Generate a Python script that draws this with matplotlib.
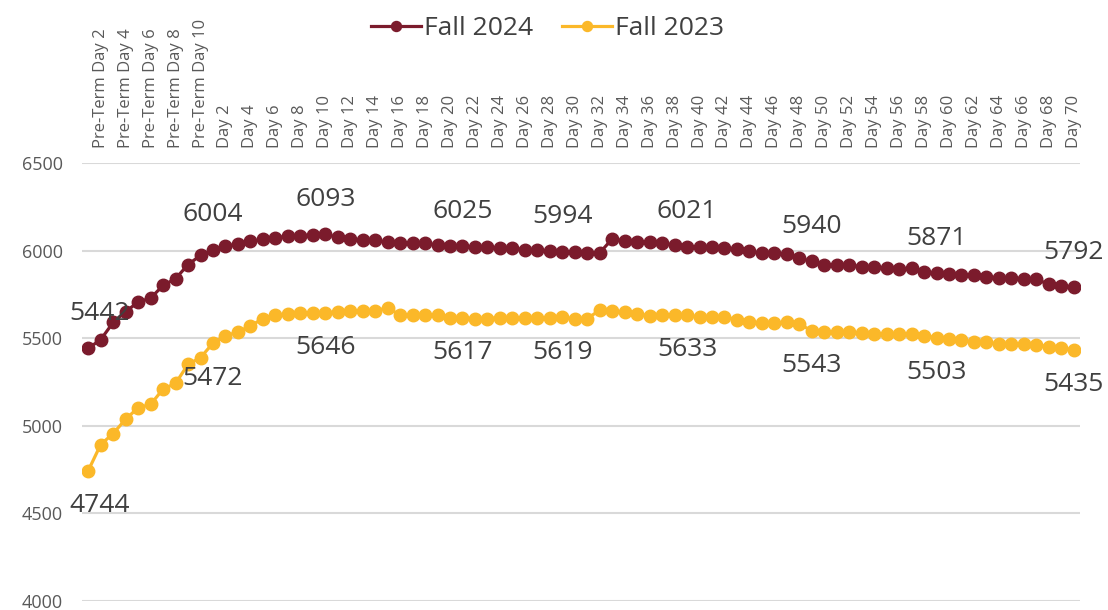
import matplotlib.pyplot as plt

plt.rcParams['font.family'] = ['Open Sans', 'DejaVu Sans']

# categories: 10 pre-term days + 70 term days
days = ['Pre-Term Day %d' % i for i in range(1, 11)] + ['Day %d' % i for i in range(1, 71)]

fall_2024 = [5442, 5492, 5590, 5652, 5706, 5729, 5801, 5840, 5920, 5973,
             6004, 6025, 6038, 6052, 6064, 6072, 6084, 6085, 6090, 6093,
             6076, 6068, 6060, 6060, 6047, 6045, 6042, 6042, 6031, 6026,
             6025, 6019, 6019, 6015, 6014, 6006, 6005, 5996, 5994, 5990,
             5985, 5987, 6067, 6055, 6048, 6048, 6041, 6032, 6021, 6021,
             6020, 6015, 6010, 5996, 5984, 5984, 5983, 5955, 5940, 5918,
             5918, 5917, 5909, 5908, 5900, 5897, 5898, 5878, 5871, 5864,
             5863, 5862, 5849, 5846, 5845, 5840, 5836, 5808, 5800, 5792]

fall_2023 = [4744, 4893, 4956, 5038, 5103, 5122, 5210, 5242, 5351, 5389,
             5472, 5515, 5534, 5572, 5610, 5630, 5640, 5645, 5646, 5646,
             5650, 5656, 5658, 5658, 5672, 5633, 5632, 5634, 5634, 5618,
             5617, 5612, 5612, 5618, 5613, 5615, 5617, 5618, 5619, 5611,
             5612, 5660, 5656, 5649, 5639, 5628, 5634, 5633, 5633, 5620,
             5620, 5622, 5605, 5594, 5587, 5587, 5590, 5580, 5543, 5538,
             5535, 5534, 5530, 5526, 5525, 5524, 5522, 5515, 5503, 5495,
             5490, 5478, 5476, 5468, 5467, 5466, 5462, 5452, 5443, 5435]

label_idx = [0, 10, 19, 30, 38, 48, 58, 68, 79]

c24 = '#7B1B2C'
c23 = '#FBB829'

fig = plt.figure(figsize=(11.08, 6.10), dpi=100)
ax = fig.add_axes([82/1108, 9/610, 998/1108, 438/610])

x = list(range(len(days)))
ax.plot(x, fall_2024, '-o', color=c24, lw=2.3, ms=9, label='Fall 2024', zorder=3)
ax.plot(x, fall_2023, '-o', color=c23, lw=2.3, ms=9, label='Fall 2023', zorder=3)

for i in label_idx:
    dx = 11 if i == 0 else 0
    ax.annotate('%d' % fall_2024[i], (i, fall_2024[i]), xytext=(dx, 35), textcoords='offset pixels',
                ha='center', va='center', fontsize=19, color='#404040', zorder=4)
    ax.annotate('%d' % fall_2023[i], (i, fall_2023[i]), xytext=(dx, -35), textcoords='offset pixels',
                ha='center', va='center', fontsize=19, color='#404040', zorder=4)

ax.set_xlim(-0.5, len(days) - 0.5)
ax.set_ylim(4000, 6500)
ax.set_yticks([4000, 4500, 5000, 5500, 6000, 6500])
ax.yaxis.grid(True, color='#d9d9d9', lw=1.5)
ax.set_axisbelow(True)
for s in ax.spines.values():
    s.set_visible(False)
ax.tick_params(axis='y', length=0, pad=14, labelsize=13, labelcolor='#595959')

ax.xaxis.tick_top()
ax.set_xticks(x[1::2])
ax.set_xticklabels(days[1::2], rotation=90, fontsize=12, color='#595959')
ax.tick_params(axis='x', length=0, pad=11)

fig.legend(loc='upper center', bbox_to_anchor=(0.494, 1.0), ncol=2, frameon=False,
           fontsize=19, handlelength=1.9, handletextpad=0.1, columnspacing=1.1,
           markerscale=0.8, labelcolor='#404040', borderaxespad=0.2)

fig.savefig('out.png', dpi=100)
